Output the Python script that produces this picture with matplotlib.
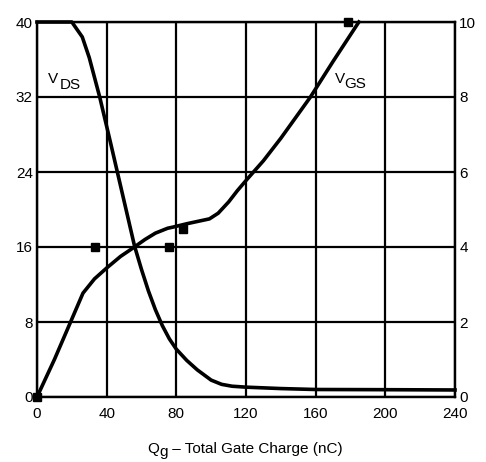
import numpy as np
import matplotlib.pyplot as plt

plt.rcParams['font.family'] = ['Liberation Sans', 'DejaVu Sans']

# V_DS (left axis, V) vs gate charge (nC)
qg_vds = [0, 20, 26, 30, 36, 42, 48, 52, 56, 60, 64, 68, 72, 76, 80, 86, 92, 100, 106, 112, 120, 140, 160, 200, 240]
vds = [40, 40, 38.4, 36.2, 32, 27.3, 22.5, 19.3, 16.1, 13.6, 11.3, 9.3, 7.6, 6.2, 5.1, 3.9, 2.9, 1.8, 1.35, 1.15, 1.05, 0.9, 0.8, 0.78, 0.75]

# V_GS (right axis, V) vs gate charge (nC)
qg_vgs = [0, 10, 19, 26.4, 33, 40, 48, 55, 62, 68, 75, 78, 86, 92, 99, 104, 110, 115, 120.5, 130, 140, 157, 170, 184.8]
vgs = [0, 1.0, 1.97, 2.77, 3.15, 3.44, 3.75, 3.97, 4.2, 4.37, 4.5, 4.53, 4.62, 4.68, 4.75, 4.9, 5.2, 5.5, 5.8, 6.3, 6.9, 8.0, 8.95, 10.0]

# square markers (left-axis units)
mark_x = [0, 33.3, 75.8, 83.8, 178.5]
mark_y = [0, 16, 16, 17.9, 40]

xticks = [0, 40, 80, 120, 160, 200, 240]
left_ticks = [0, 8, 16, 24, 32, 40]
right_ticks = [0, 2, 4, 6, 8, 10]

fs = 11

fig = plt.figure(figsize=(4.86, 4.62), dpi=100)
ax = fig.add_axes([37/486, 1 - 397/462, (455 - 37)/486, (397 - 22)/462])
ax2 = ax.twinx()

ax.set_xlim(0, 240)
ax.set_ylim(0, 40)
ax2.set_ylim(0, 10)
ax.set_xticks(xticks)
ax.set_yticks(left_ticks)
ax2.set_yticks(right_ticks)

ax.grid(True, color='black', linewidth=1.6)
for a in (ax, ax2):
    for s in a.spines.values():
        s.set_linewidth(1.6)
        s.set_color('black')
ax.tick_params(axis='both', length=0, labelsize=fs)
ax.tick_params(axis='y', pad=3)
ax.tick_params(axis='x', pad=7)
ax2.tick_params(axis='y', length=0, labelsize=fs, pad=3)

ax.plot(qg_vds, vds, color='black', linewidth=2.6, solid_joinstyle='round', clip_on=False, zorder=3)
ax2.plot(qg_vgs, vgs, color='black', linewidth=2.6, solid_joinstyle='round', clip_on=False, zorder=3)
ax.plot(mark_x, mark_y, 's', color='black', markersize=6, clip_on=False, zorder=4)

# curve labels (subscript drawn near full size, as in the datasheet)
ax.text(6.3, 34.7, 'V', fontsize=fs, va='top', ha='left')
ax.text(12.8, 34.0, 'DS', fontsize=fs, va='top', ha='left')
ax.text(171.3, 34.7, 'V', fontsize=fs, va='top', ha='left')
ax.text(176.6, 34.1, 'GS', fontsize=fs, va='top', ha='left')

# x label: Q with a full-size lowered g
t1 = fig.text(147/486, 1 - 453/462, 'Q', fontsize=fs, va='baseline', ha='left')
t2 = ax.annotate('g', xy=(1, 0), xycoords=t1, xytext=(0.3, -2.5), textcoords='offset points',
                 fontsize=fs, va='bottom', ha='left', annotation_clip=False)
ax.annotate(' – Total Gate Charge (nC)', xy=(1, 0), xycoords=(t2, t1), xytext=(0.5, 0),
            textcoords='offset points', fontsize=fs, va='bottom', ha='left', annotation_clip=False)

fig.savefig('out.png', dpi=100)
